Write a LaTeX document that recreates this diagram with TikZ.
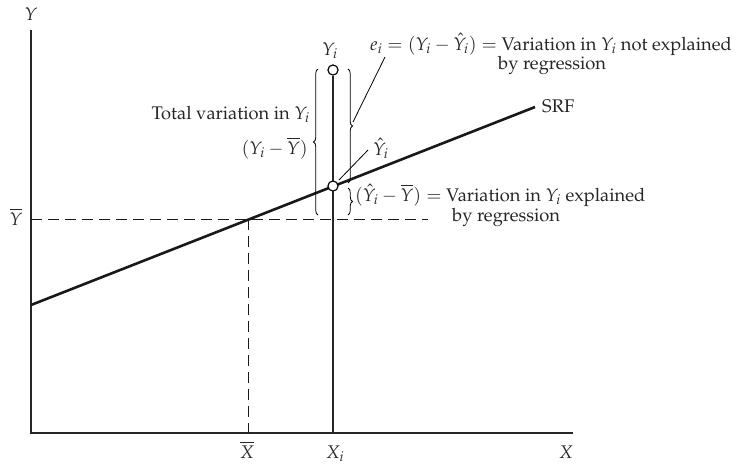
\documentclass[tikz,border=0pt]{standalone}
\usepackage[T1]{fontenc}
\usepackage{mathpazo}
\usetikzlibrary{decorations.pathreplacing}
\begin{document}
\begin{tikzpicture}[x=1pt,y=-1pt,
  axis/.style={line width=1.1pt,color=black!85},
  dsh/.style={line width=1pt,color=black!90,dash pattern=on 11pt off 6pt},
  srf/.style={line width=2.6pt,color=black!90},
  vline/.style={line width=1.1pt,color=black!85},
  pt/.style={circle,draw,line width=1pt,fill=white,inner sep=0pt,minimum size=10pt},
  brc/.style={decorate,decoration={brace,amplitude=4.5pt},line width=0.8pt},
  lead/.style={line width=0.8pt},
  lbl/.style={inner sep=0pt,text=black!85,font=\fontsize{18.3}{21}\selectfont},
]
\useasboundingbox (0,0) rectangle (740,464);
% axes
\coordinate (O) at (31,433);
\coordinate (Ytop) at (31,30);
\coordinate (Xend) at (573,433);
\draw[axis] (Ytop) -- (O) -- (Xend);
\node[lbl,anchor=base] (ylab) at (31,20) {$Y$};
\node[lbl,anchor=base] (xlab) at (566,458) {$X$};
% dashed means
\coordinate (ybl) at (31,219);
\coordinate (ybr) at (428,219);
\coordinate (xbt) at (248,219);
\coordinate (xbb) at (248,433);
\draw[dsh] (ybl) -- (ybr);
\draw[dsh] (xbt) -- (xbb);
\node[lbl,anchor=base] (ybar) at (16,225) {$\overline{Y}$};
\node[lbl,anchor=base] (xbar) at (247,458) {$\overline{X}$};
% vertical at Xi
\coordinate (xib) at (333,433);
\node[lbl,anchor=base] (xi) at (335,458) {$X_i$};
% SRF
\coordinate (s1) at (31,305);
\coordinate (s2) at (535,107);
\draw[srf] (s1) -- (s2);
\node[lbl,anchor=base west] (srflab) at (542,112) {SRF};
% points
\node[pt] (Yi) at (333,70) {};
\node[pt] (Yh) at (333,186) {};
\draw[vline] (Yi) -- (xib);
\node[pt] at (333,70) {};
\node[pt] at (333,186) {};
\node[lbl,anchor=base] (yilab) at (330,55) {$Y_i$};
\node[lbl,anchor=base west] (yhlab) at (373,155) {$\hat{Y}_i$};
% braces
\draw[brc] (318,215) -- (318,69);
\draw[brc] (348,69) -- (348,183);
\draw[brc] (348,188) -- (348,215);
% left labels
\node[lbl,anchor=base east] (tot) at (310,119) {Total variation in $Y_i$};
\node[lbl,anchor=base east] (dev) at (308,154) {$(Y_i-\overline{Y})$};
% e_i label
\node[lbl,anchor=base west] (ei) at (370,50) {$e_i=(Y_i-\hat{Y}_i)=$ Variation in $Y_i$ not explained};
\node[lbl,anchor=base west] (ei2) at (498,69) {by regression};
% explained label
\node[lbl,anchor=base west] (ex) at (355,201) {$(\hat{Y}_i-\overline{Y})=$ Variation in $Y_i$ explained};
\node[lbl,anchor=base west] (ex2) at (452,221) {by regression};
% leaders
\coordinate (eiend) at (353,122);
\coordinate (eist) at (385,57);
\draw[lead] (eist) -- (eiend);
\coordinate (yhst) at (368,150);
\coordinate (yhend) at (339,180);
\draw[lead] (yhst) -- (yhend);
\end{tikzpicture}
\end{document}
